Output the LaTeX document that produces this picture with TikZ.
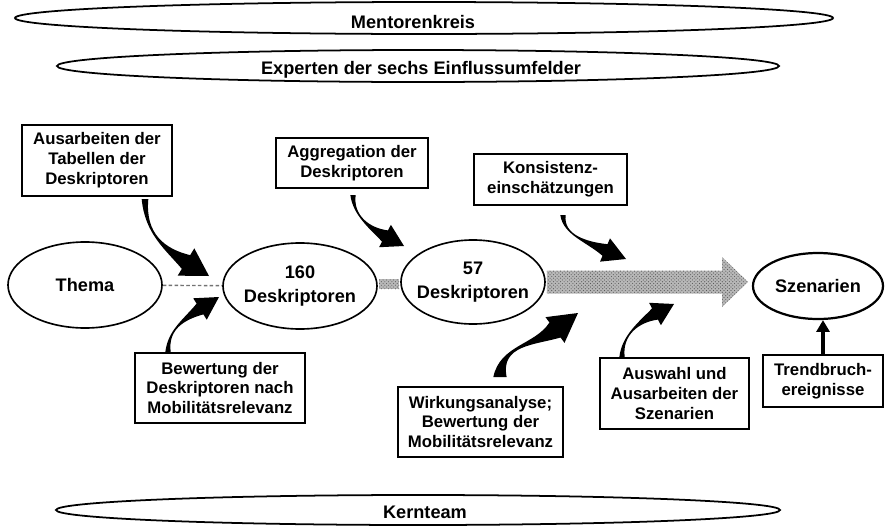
\documentclass[tikz,border=0pt]{standalone}
\usepackage{fontspec}
\setmainfont{Liberation Sans}
\usetikzlibrary{shapes.geometric,calc,patterns,arrows.meta}
\newcommand\taperarrow[8]{% start, c1, c2, head base, tip, start hw, body hw, head hw
  \fill ($(#1)!#6!90:(#2)$) .. controls (#2) and (#3) .. ($(#4)!#7!90:(#5)$)
    -- ($(#4)!#8!90:(#5)$) -- (#5) -- ($(#4)!#8!-90:(#5)$) -- ($(#4)!#7!-90:(#5)$)
    .. controls (#3) and (#2) .. ($(#1)!#6!-90:(#2)$) -- cycle;}
\begin{document}
\begin{tikzpicture}[x=0.03cm,y=-0.03cm,
  ell/.style={draw,ellipse,line width=1.4pt,inner sep=0pt,align=center,
    font=\fontsize{15.5}{20}\selectfont\bfseries},
  hell/.style={draw,ellipse,line width=1.5pt,inner sep=0pt},
  htext/.style={anchor=base,inner sep=0pt,font=\fontsize{15.5}{18}\selectfont\bfseries},
  box/.style={draw,line width=0.9pt,rectangle,inner sep=0pt,align=center,
    font=\fontsize{14.3}{17}\selectfont\bfseries},
  speckle/.style={preaction={fill=black!28},pattern=crosshatch dots,pattern color=black!65},
]
\useasboundingbox (0,0) rectangle (886,526);

% group ellipses
\node[hell,minimum width=24.54cm,minimum height=0.96cm] (mk) at (424,18) {};
\node[htext] (mkt) at (413,28) {Mentorenkreis};
\node[hell,minimum width=21.66cm,minimum height=0.96cm] (ex) at (418,66) {};
\node[htext] (ext) at (421,74) {Experten der sechs Einflussumfelder};
\node[hell,minimum width=21.72cm,minimum height=0.9cm] (kt) at (418,510) {};
\node[htext] (ktt) at (425,518) {Kernteam};

% main ellipses
\node[ell,minimum width=4.62cm,minimum height=2.58cm] (thema) at (85,285) {Thema};
\node[ell,minimum width=4.62cm,minimum height=2.58cm] (n160) at (300,286) {160\\\makebox[0pt]{Deskriptoren}};
\node[ell,minimum width=4.32cm,minimum height=2.52cm] (n57) at (473,282) {57\\\makebox[0pt]{Deskriptoren}};
\node[ell,line width=1.9pt,minimum width=3.9cm,minimum height=1.98cm] (sz) at (818,286) {Szenarien};

% boxes
\node[box,minimum width=4.5cm,minimum height=2.13cm] (b1) at (97,160.5) {Ausarbeiten der\\Tabellen der\\Deskriptoren};
\node[box,minimum width=4.56cm,minimum height=1.5cm] (b2) at (352,163) {Aggregation der\\Deskriptoren};
\node[box,minimum width=5.1cm,minimum height=2.1cm] (b3) at (220,388) {Bewertung der\\Deskriptoren nach\\Mobilitätsrelevanz};
\node[box,minimum width=4.59cm,minimum height=1.53cm] (b4) at (550.5,179.5) {Konsistenz-\\einschätzungen};
\node[box,minimum width=4.95cm,minimum height=2.1cm] (b5) at (480.5,422) {Wirkungsanalyse;\\Bewertung der\\Mobilitätsrelevanz};
\node[box,minimum width=4.47cm,minimum height=2.13cm] (b6) at (674.5,393.5) {Auswahl und\\Ausarbeiten der\\Szenarien};
\node[box,minimum width=3.6cm,minimum height=1.56cm] (b7) at (823,381) {Trendbruch-\\ereignisse};

% connectors between ellipses
\draw[black!55,line width=1.2pt,densely dashed] (thema) -- (n160);
\fill[speckle] ($(n160.east)+(1,-7)$) rectangle ($(n57.west)+(-1,7)$);
\coordinate (bt) at (748,282);
\fill[speckle] ($(n57.east)+(1,-11.5)$) -- ($(bt)+(-26,-11.5)$) -- ($(bt)+(-26,-25)$) -- (bt)
  -- ($(bt)+(-26,25)$) -- ($(bt)+(-26,11.5)$) -- ($(n57.east)+(1,11.5)$) -- cycle;

% curved tapered arrows
\coordinate (a1s) at (145,199); \coordinate (a1c) at (145,234); \coordinate (a1d) at (165,249);
\coordinate (a1h) at (186,262); \coordinate (a1t) at (209,276);
\taperarrow{a1s}{a1c}{a1d}{a1h}{a1t}{0.1cm}{0.24cm}{0.48cm}
\coordinate (a2s) at (168,352); \coordinate (a2c) at (168,330); \coordinate (a2d) at (183,320);
\coordinate (a2h) at (200,309); \coordinate (a2t) at (219,297);
\taperarrow{a2s}{a2c}{a2d}{a2h}{a2t}{0.08cm}{0.19cm}{0.38cm}
\coordinate (a3s) at (353,195); \coordinate (a3c) at (353,215); \coordinate (a3d) at (369,228);
\coordinate (a3h) at (385,236); \coordinate (a3t) at (404,246);
\taperarrow{a3s}{a3c}{a3d}{a3h}{a3t}{0.08cm}{0.19cm}{0.38cm}
\coordinate (a4s) at (563,215); \coordinate (a4c) at (563,235); \coordinate (a4d) at (587,242);
\coordinate (a4h) at (605,250); \coordinate (a4t) at (626,259);
\taperarrow{a4s}{a4c}{a4d}{a4h}{a4t}{0.08cm}{0.19cm}{0.38cm}
\coordinate (a5s) at (500,377); \coordinate (a5c) at (500,345); \coordinate (a5d) at (535,345);
\coordinate (a5h) at (555,330); \coordinate (a5t) at (578,313);
\taperarrow{a5s}{a5c}{a5d}{a5h}{a5t}{0.2cm}{0.28cm}{0.48cm}
\coordinate (a6s) at (622,357); \coordinate (a6c) at (622,335); \coordinate (a6d) at (639,322);
\coordinate (a6h) at (655,314); \coordinate (a6t) at (674,304);
\taperarrow{a6s}{a6c}{a6d}{a6h}{a6t}{0.08cm}{0.19cm}{0.38cm}

% Trendbruch arrow
\draw[line width=2.6pt,-{Triangle[length=10pt,width=11pt]}] (b7.north) -- (b7.north |- sz.south);
\end{tikzpicture}
\end{document}
